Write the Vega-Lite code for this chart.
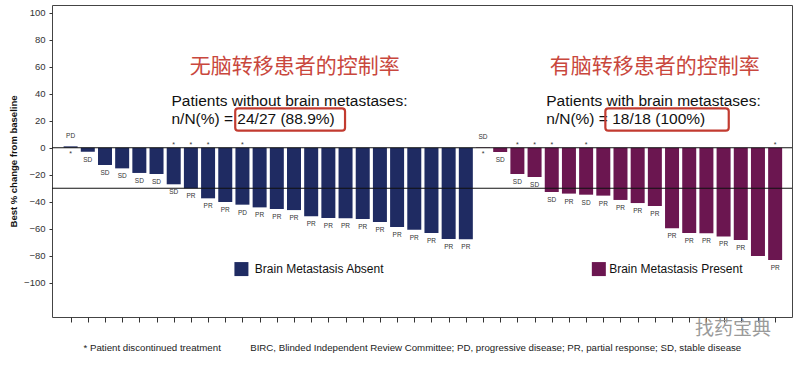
{
  "$schema": "https://vega.github.io/schema/vega-lite/v6.json",
  "width": 740,
  "height": 312,
  "autosize": "none",
  "padding": {"left": 52, "top": 5, "right": 8, "bottom": 48},
  "background": "white",
  "config": {
    "view": {"stroke": "#444", "strokeWidth": 1},
    "font": "Liberation Sans",
    "axisX": {"labels": false, "domain": false, "grid": false, "ticks": true, "tickSize": 5, "tickColor": "#333", "tickCount": 60, "labelOverlap": false},
    "axisY": {"domain": false, "grid": false, "tickSize": 3, "tickColor": "#333", "tickCount": 30, "labelOverlap": false, "labelFontSize": 9.5, "labelColor": "#333", "labelPadding": 4, "titleFontSize": 9.5, "titleFontWeight": "bold", "titleColor": "#111", "titlePadding": 5}
  },
  "datasets": {
    "patients": [
      {"patient": 1, "change": 1.0, "group": "Brain Metastasis Absent", "response": "PD", "discontinued": true},
      {"patient": 2, "change": -3.0, "group": "Brain Metastasis Absent", "response": "SD", "discontinued": false},
      {"patient": 3, "change": -12.8, "group": "Brain Metastasis Absent", "response": "SD", "discontinued": false},
      {"patient": 4, "change": -15.3, "group": "Brain Metastasis Absent", "response": "SD", "discontinued": false},
      {"patient": 5, "change": -18.7, "group": "Brain Metastasis Absent", "response": "SD", "discontinued": false},
      {"patient": 6, "change": -19.5, "group": "Brain Metastasis Absent", "response": "SD", "discontinued": false},
      {"patient": 7, "change": -27.1, "group": "Brain Metastasis Absent", "response": "SD", "discontinued": true},
      {"patient": 8, "change": -30.1, "group": "Brain Metastasis Absent", "response": "PR", "discontinued": true},
      {"patient": 9, "change": -37.5, "group": "Brain Metastasis Absent", "response": "PR", "discontinued": true},
      {"patient": 10, "change": -40.2, "group": "Brain Metastasis Absent", "response": "PR", "discontinued": false},
      {"patient": 11, "change": -42.2, "group": "Brain Metastasis Absent", "response": "PD", "discontinued": true},
      {"patient": 12, "change": -44.2, "group": "Brain Metastasis Absent", "response": "PR", "discontinued": false},
      {"patient": 13, "change": -45.4, "group": "Brain Metastasis Absent", "response": "PR", "discontinued": false},
      {"patient": 14, "change": -46.2, "group": "Brain Metastasis Absent", "response": "PR", "discontinued": false},
      {"patient": 15, "change": -50.8, "group": "Brain Metastasis Absent", "response": "PR", "discontinued": false},
      {"patient": 16, "change": -52.1, "group": "Brain Metastasis Absent", "response": "PR", "discontinued": false},
      {"patient": 17, "change": -52.3, "group": "Brain Metastasis Absent", "response": "PR", "discontinued": false},
      {"patient": 18, "change": -52.8, "group": "Brain Metastasis Absent", "response": "PR", "discontinued": false},
      {"patient": 19, "change": -55.0, "group": "Brain Metastasis Absent", "response": "PR", "discontinued": false},
      {"patient": 20, "change": -58.7, "group": "Brain Metastasis Absent", "response": "PR", "discontinued": false},
      {"patient": 21, "change": -60.7, "group": "Brain Metastasis Absent", "response": "PR", "discontinued": false},
      {"patient": 22, "change": -63.2, "group": "Brain Metastasis Absent", "response": "PR", "discontinued": false},
      {"patient": 23, "change": -67.6, "group": "Brain Metastasis Absent", "response": "PR", "discontinued": false},
      {"patient": 24, "change": -67.9, "group": "Brain Metastasis Absent", "response": "PR", "discontinued": false},
      {"patient": 25, "change": 0.3, "group": "Brain Metastasis Present", "response": "SD", "discontinued": true},
      {"patient": 26, "change": -3.2, "group": "Brain Metastasis Present", "response": "SD", "discontinued": false},
      {"patient": 27, "change": -19.5, "group": "Brain Metastasis Present", "response": "SD", "discontinued": true},
      {"patient": 28, "change": -21.7, "group": "Brain Metastasis Present", "response": "SD", "discontinued": true},
      {"patient": 29, "change": -32.8, "group": "Brain Metastasis Present", "response": "SD", "discontinued": true},
      {"patient": 30, "change": -34.0, "group": "Brain Metastasis Present", "response": "PR", "discontinued": false},
      {"patient": 31, "change": -34.8, "group": "Brain Metastasis Present", "response": "SD", "discontinued": true},
      {"patient": 32, "change": -35.5, "group": "Brain Metastasis Present", "response": "PR", "discontinued": false},
      {"patient": 33, "change": -38.7, "group": "Brain Metastasis Present", "response": "PR", "discontinued": false},
      {"patient": 34, "change": -41.0, "group": "Brain Metastasis Present", "response": "PR", "discontinued": false},
      {"patient": 35, "change": -43.2, "group": "Brain Metastasis Present", "response": "PR", "discontinued": false},
      {"patient": 36, "change": -59.7, "group": "Brain Metastasis Present", "response": "PR", "discontinued": false},
      {"patient": 37, "change": -63.2, "group": "Brain Metastasis Present", "response": "PR", "discontinued": false},
      {"patient": 38, "change": -63.4, "group": "Brain Metastasis Present", "response": "PR", "discontinued": false},
      {"patient": 39, "change": -65.7, "group": "Brain Metastasis Present", "response": "PR", "discontinued": false},
      {"patient": 40, "change": -68.4, "group": "Brain Metastasis Present", "response": "PR", "discontinued": false},
      {"patient": 41, "change": -80.2, "group": "Brain Metastasis Present", "response": "", "discontinued": false},
      {"patient": 42, "change": -83.2, "group": "Brain Metastasis Present", "response": "PR", "discontinued": true}
    ],
    "headings": [
      {"patient": 14.04, "change": 59.8, "text": "无脑转移患者的控制率"},
      {"patient": 35.0, "change": 59.8, "text": "有脑转移患者的控制率"}
    ],
    "summaries": [
      {"patient": 6.87, "change": 30.9, "text": "Patients without brain metastases:"},
      {"patient": 6.87, "change": 17.6, "text": "n/N(%) = 24/27 (88.9%)"},
      {"patient": 28.68, "change": 30.9, "text": "Patients with brain metastases:"},
      {"patient": 28.68, "change": 17.6, "text": "n/N(%) = 18/18 (100%)"}
    ],
    "boxes": [
      {"patient": 10.58, "patient2": 16.97, "change": 29.2, "change2": 12.6},
      {"patient": 32.12, "patient2": 39.3, "change": 29.2, "change2": 12.6}
    ],
    "legendItems": [
      {"patient": 10.94, "labelAt": 11.72, "change": -89.9, "group": "Brain Metastasis Absent"},
      {"patient": 31.74, "labelAt": 32.34, "change": -89.9, "group": "Brain Metastasis Present"}
    ],
    "footnotes": [
      {"patient": 1.75, "change": -148.4, "text": "* Patient discontinued treatment"},
      {"patient": 11.45, "change": -148.4, "text": "BIRC, Blinded Independent Review Committee; PD, progressive disease; PR, partial response; SD, stable disease"}
    ],
    "watermark": [
      {"patient": 39.55, "change": -134.2, "text": "找药宝典"}
    ],
    "references": [
      {"change": 0},
      {"change": -30}
    ]
  },
  "layer": [
    {
      "data": {"name": "patients"},
      "mark": {"type": "bar", "size": 14, "orient": "vertical"},
      "encoding": {
        "x": {
          "field": "patient", "type": "quantitative",
          "scale": {"domain": [0.208, 42.69], "nice": false, "zero": false},
          "axis": {
            "values": [1,2,3,4,5,6,7,8,9,10,11,12,13,14,15,16,17,18,19,20,21,22,23,24,25,26,27,28,29,30,31,32,33,34,35,36,37,38,39,40,41,42],
            "title": null
          }
        },
        "y": {
          "field": "change", "type": "quantitative",
          "scale": {"domain": [-125.4, 105.7], "nice": false},
          "axis": {
            "values": [-100, -80, -60, -40, -20, 0, 20, 40, 60, 80, 100],
            "title": "Best % change from baseline"
          }
        },
        "color": {
          "field": "group", "type": "nominal",
          "scale": {"domain": ["Brain Metastasis Absent", "Brain Metastasis Present"], "range": ["#1f2b62", "#6b1650"]},
          "legend": null
        }
      }
    },
    {
      "data": {"name": "references"},
      "mark": {"type": "rule", "color": "#111", "strokeWidth": 1.1},
      "encoding": {"y": {"field": "change", "type": "quantitative"}}
    },
    {
      "data": {"name": "patients"},
      "transform": [{"filter": "datum.change < 0"}],
      "mark": {"type": "text", "fontSize": 6.5, "color": "#333", "baseline": "middle", "dy": 8},
      "encoding": {
        "x": {"field": "patient", "type": "quantitative"},
        "y": {"field": "change", "type": "quantitative"},
        "text": {"field": "response"}
      }
    },
    {
      "data": {"name": "patients"},
      "transform": [{"filter": "datum.change > 0"}],
      "mark": {"type": "text", "fontSize": 6.5, "color": "#333", "baseline": "middle", "dy": -10},
      "encoding": {
        "x": {"field": "patient", "type": "quantitative"},
        "y": {"field": "change", "type": "quantitative"},
        "text": {"field": "response"}
      }
    },
    {
      "data": {"name": "patients"},
      "transform": [{"filter": "datum.discontinued && datum.change < 0"}],
      "mark": {"type": "text", "fontSize": 7, "color": "#333", "baseline": "alphabetic", "dy": -1, "text": "*"},
      "encoding": {
        "x": {"field": "patient", "type": "quantitative"},
        "y": {"datum": 0, "type": "quantitative"}
      }
    },
    {
      "data": {"name": "patients"},
      "transform": [{"filter": "datum.discontinued && datum.change > 0"}],
      "mark": {"type": "text", "fontSize": 7, "color": "#333", "baseline": "alphabetic", "dy": 8, "text": "*"},
      "encoding": {
        "x": {"field": "patient", "type": "quantitative"},
        "y": {"datum": 0, "type": "quantitative"}
      }
    },
    {
      "data": {"name": "headings"},
      "mark": {"type": "text", "font": "Noto Sans CJK SC", "fontSize": 21, "color": "#c9473d", "align": "center", "baseline": "middle"},
      "encoding": {
        "x": {"field": "patient", "type": "quantitative"},
        "y": {"field": "change", "type": "quantitative"},
        "text": {"field": "text"}
      }
    },
    {
      "data": {"name": "summaries"},
      "mark": {"type": "text", "fontSize": 15.5, "color": "#111", "align": "left", "baseline": "alphabetic"},
      "encoding": {
        "x": {"field": "patient", "type": "quantitative"},
        "y": {"field": "change", "type": "quantitative"},
        "text": {"field": "text"}
      }
    },
    {
      "data": {"name": "boxes"},
      "mark": {"type": "rect", "fill": null, "filled": false, "stroke": "#c23b30", "strokeWidth": 2.2, "cornerRadius": 3},
      "encoding": {
        "x": {"field": "patient", "type": "quantitative"},
        "x2": {"field": "patient2"},
        "y": {"field": "change", "type": "quantitative"},
        "y2": {"field": "change2"}
      }
    },
    {
      "data": {"name": "legendItems"},
      "mark": {"type": "point", "shape": "square", "filled": true, "size": 196, "opacity": 1},
      "encoding": {
        "x": {"field": "patient", "type": "quantitative"},
        "y": {"field": "change", "type": "quantitative"},
        "color": {"field": "group", "type": "nominal", "legend": null}
      }
    },
    {
      "data": {"name": "legendItems"},
      "mark": {"type": "text", "fontSize": 12, "color": "#111", "align": "left", "baseline": "middle"},
      "encoding": {
        "x": {"field": "labelAt", "type": "quantitative"},
        "y": {"field": "change", "type": "quantitative"},
        "text": {"field": "group"}
      }
    },
    {
      "data": {"name": "footnotes"},
      "mark": {"type": "text", "fontSize": 9.7, "color": "#222", "align": "left", "baseline": "middle"},
      "encoding": {
        "x": {"field": "patient", "type": "quantitative"},
        "y": {"field": "change", "type": "quantitative"},
        "text": {"field": "text"}
      }
    },
    {
      "data": {"name": "watermark"},
      "mark": {"type": "text", "font": "Noto Sans CJK SC", "fontSize": 19, "color": "#9a9a9a", "align": "center", "baseline": "middle"},
      "encoding": {
        "x": {"field": "patient", "type": "quantitative"},
        "y": {"field": "change", "type": "quantitative"},
        "text": {"field": "text"}
      }
    }
  ]
}
